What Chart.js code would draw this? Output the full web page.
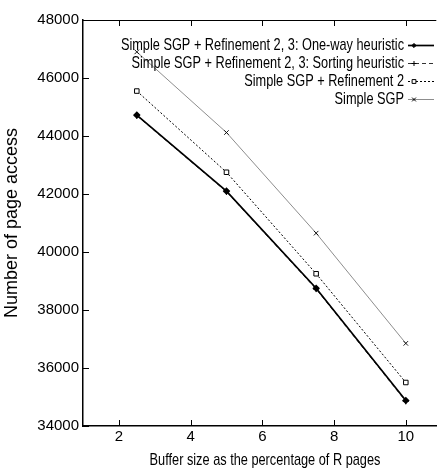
<!DOCTYPE html>
<html>
<head>
<meta charset="utf-8">
<script src="https://cdn.jsdelivr.net/npm/chart.js@4"></script>
<style>
  html, body { margin: 0; padding: 0; background: #fff; }
  #wrap { width: 442px; height: 470px; }
</style>
</head>
<body>
<div id="wrap"><canvas id="pageChart"></canvas></div>
<script>
// data
const bufferSizes = [2.5, 5, 7.5, 10];
const oneWay = [44720, 42100, 38750, 34880];
const sorting = [44700, 42080, 38720, 34850];
const refinement2 = [45550, 42750, 39250, 35500];
const simpleSgp = [46900, 44120, 40650, 36850];
const xTicks = [2, 4, 6, 8, 10];
const yTicks = [34000, 36000, 38000, 40000, 42000, 44000, 46000, 48000];

const seriesLabels = [
    'Simple SGP + Refinement 2, 3: One-way heuristic',
    'Simple SGP + Refinement 2, 3: Sorting heuristic',
    'Simple SGP + Refinement 2',
    'Simple SGP',
];
const xTitle = 'Buffer size as the percentage of R pages';
const yTitle = 'Number of page access';

const FONT = '"Liberation Sans", Arial, sans-serif';

const toPoints = (ys) => ys.map((y, i) => ({ x: bufferSizes[i], y: y }));

// text squeezed horizontally (the original plot is stretched vertically)
function squeezedText(ctx, text, x, y, size, sx, align) {
    ctx.save();
    ctx.font = size + 'px ' + FONT;
    ctx.textAlign = align;
    ctx.textBaseline = 'middle';
    ctx.translate(x, y);
    ctx.scale(sx, 1);
    ctx.fillText(text, 0, 0);
    ctx.restore();
}

// gnuplot-like inward ticks + top border + x title
const frameTicks = {
    id: 'frameTicks',
    afterDraw(chart) {
        const { ctx, chartArea: a, scales } = chart;
        ctx.save();
        ctx.strokeStyle = '#000';
        ctx.lineWidth = 1;
        ctx.beginPath();
        ctx.moveTo(a.left, a.top + 0.5);
        ctx.lineTo(a.right, a.top + 0.5);
        xTicks.forEach((v) => {
            const px = Math.round(scales.x.getPixelForValue(v)) + 0.5;
            ctx.moveTo(px, a.bottom);
            ctx.lineTo(px, a.bottom - 6);
            ctx.moveTo(px, a.top);
            ctx.lineTo(px, a.top + 6);
        });
        yTicks.forEach((v) => {
            const py = Math.round(scales.y.getPixelForValue(v)) + 0.5;
            ctx.moveTo(a.left, py);
            ctx.lineTo(a.left + 6, py);
        });
        ctx.stroke();
        ctx.fillStyle = '#000';
        squeezedText(ctx, xTitle, 265, 460, 17, 0.75, 'center');
        ctx.restore();
    },
};

// right-aligned legend with the sample on the right, like gnuplot
const keyPlugin = {
    id: 'keyPlugin',
    afterDraw(chart) {
        const { ctx } = chart;
        const textRight = 404;
        const sx0 = 408, sx1 = 434;
        const rowY = [45, 63, 81, 99];
        ctx.save();
        chart.data.datasets.forEach((ds, i) => {
            const y = rowY[i];
            ctx.fillStyle = '#000';
            squeezedText(ctx, ds.label, textRight, y, 17, 0.75, 'right');
            ctx.beginPath();
            ctx.strokeStyle = ds.borderColor;
            ctx.lineWidth = ds.borderWidth;
            ctx.setLineDash(ds.borderDash || []);
            ctx.moveTo(sx0, y + 0.5);
            ctx.lineTo(sx1, y + 0.5);
            ctx.stroke();
            ctx.setLineDash([]);
            ctx.strokeStyle = '#000';
            ctx.fillStyle = ds.pointBackgroundColor || '#000';
            ctx.lineWidth = 1;
            Chart.helpers.drawPoint(ctx, {
                pointStyle: ds.pointStyle,
                radius: ds.pointRadius - 0.5,
                borderWidth: 1,
            }, 414, y + 0.5);
        });
        ctx.restore();
    },
};

const ctx = document.getElementById('pageChart').getContext('2d');

new Chart(ctx, {
    type: 'line',
    data: {
        datasets: [
            {
                label: seriesLabels[0],
                data: toPoints(oneWay),
                borderColor: '#000',
                backgroundColor: '#000',
                borderWidth: 1.7,
                pointStyle: 'rectRot',
                pointRadius: 2.6,
                pointBorderColor: '#000',
                pointBackgroundColor: '#000',
            },
            {
                label: seriesLabels[1],
                data: toPoints(sorting),
                borderColor: '#333',
                backgroundColor: '#000',
                borderWidth: 1,
                borderDash: [4, 3],
                pointStyle: 'cross',
                pointRadius: 3,
                pointBorderColor: '#000',
            },
            {
                label: seriesLabels[2],
                data: toPoints(refinement2),
                borderColor: '#000',
                backgroundColor: '#fff',
                borderWidth: 1,
                borderDash: [2, 2],
                pointStyle: 'rect',
                pointRadius: 3.2,
                pointBorderColor: '#000',
                pointBackgroundColor: '#fff',
            },
            {
                label: seriesLabels[3],
                data: toPoints(simpleSgp),
                borderColor: '#808080',
                backgroundColor: '#000',
                borderWidth: 0.9,
                pointStyle: 'crossRot',
                pointRadius: 3.2,
                pointBorderColor: '#000',
            },
        ],
    },
    options: {
        responsive: true,
        maintainAspectRatio: false,
        animation: false,
        events: [],
        layout: { padding: { top: 20, right: 0, left: 0, bottom: 0 } },
        plugins: {
            legend: { display: false },
            tooltip: { enabled: false },
        },
        elements: { line: { tension: 0 }, point: { borderWidth: 1 } },
        scales: {
            x: {
                type: 'linear',
                min: 1,
                max: 10.85,
                afterBuildTicks: (scale) => {
                    scale.ticks = xTicks.map((v) => ({ value: v }));
                },
                afterFit: (scale) => { scale.height = 44; },
                grid: { display: false, drawTicks: false },
                border: { display: true, color: '#000', width: 1.5 },
                ticks: {
                    color: '#000',
                    font: { family: FONT, size: 15 },
                    padding: 2,
                    maxRotation: 0,
                    callback: (v) => String(v),
                },
            },
            y: {
                type: 'linear',
                min: 34000,
                max: 48000,
                afterBuildTicks: (scale) => {
                    scale.ticks = yTicks.map((v) => ({ value: v }));
                },
                afterFit: (scale) => { scale.width = 83; },
                grid: { display: false, drawTicks: false },
                border: { display: true, color: '#000', width: 1.5 },
                ticks: {
                    color: '#000',
                    font: { family: FONT, size: 15 },
                    padding: 4,
                    callback: (v) => String(v),
                },
                title: {
                    display: true,
                    text: yTitle,
                    color: '#000',
                    font: { family: FONT, size: 18 },
                    padding: { top: 1, bottom: 0 },
                },
            },
        },
    },
    plugins: [frameTicks, keyPlugin],
});
</script>
</body>
</html>
